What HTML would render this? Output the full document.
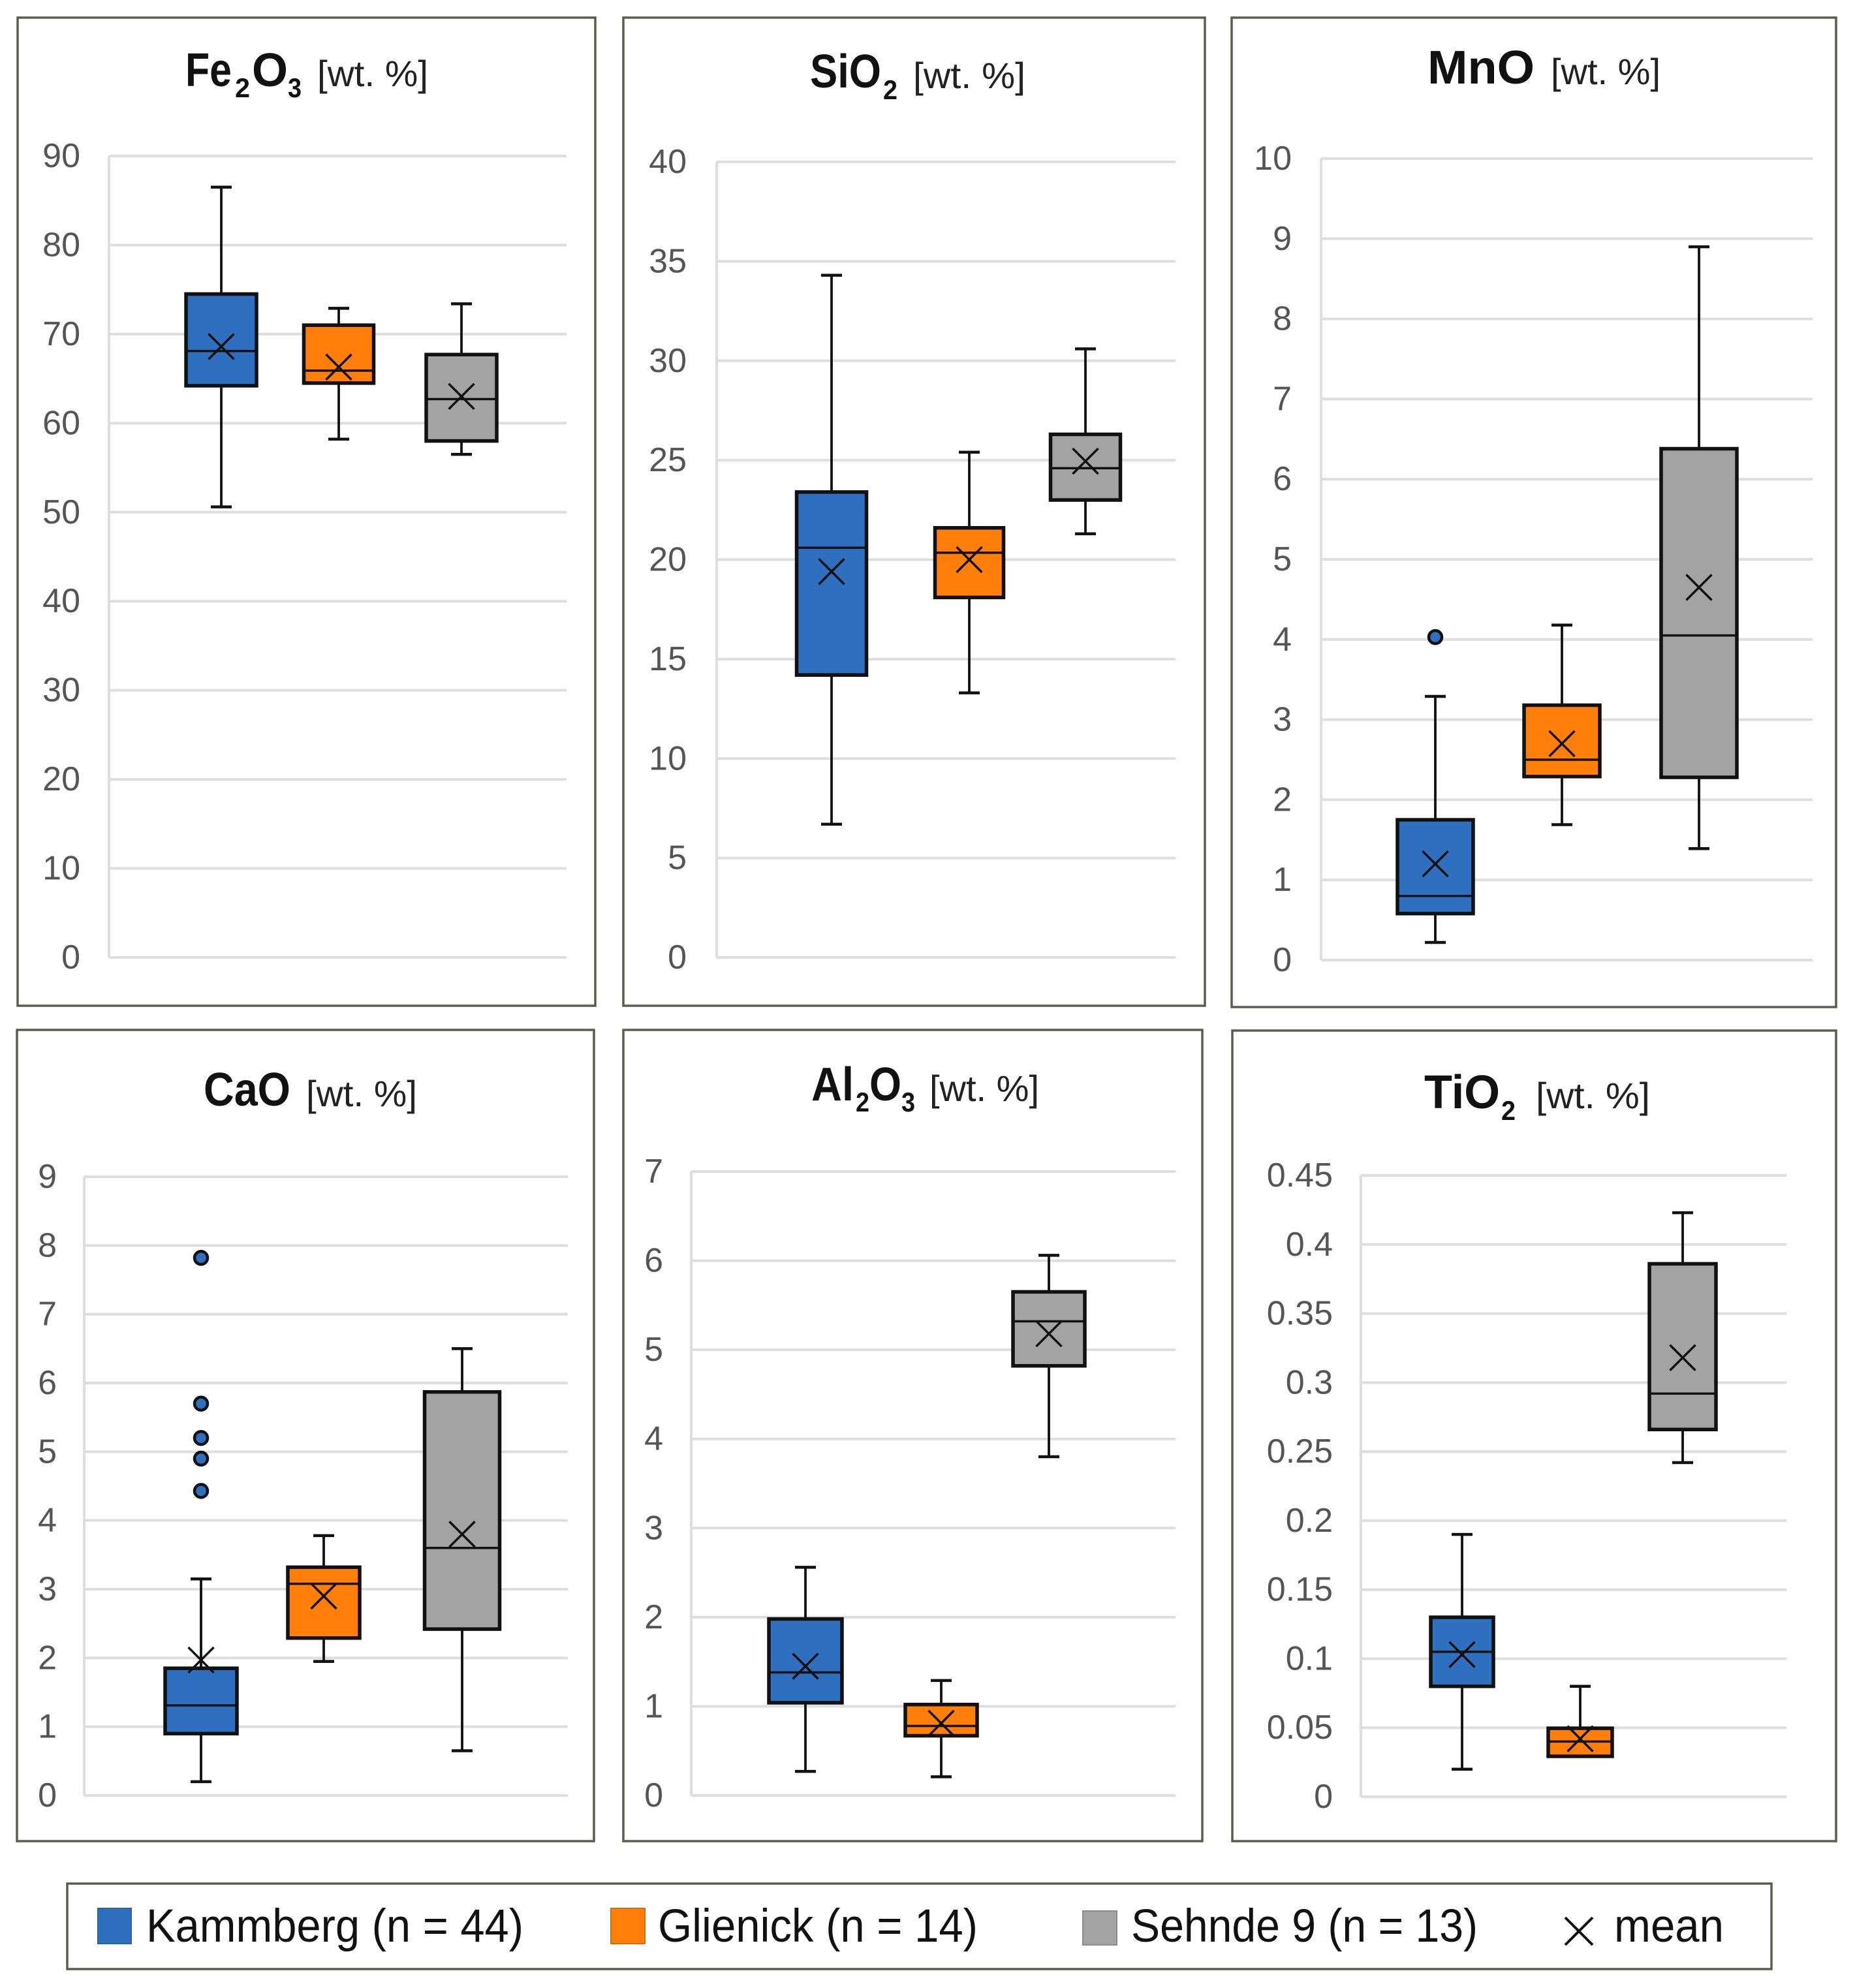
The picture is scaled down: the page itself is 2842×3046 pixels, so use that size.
<!DOCTYPE html>
<html lang="en">
<head>
<meta charset="utf-8">
<title>Oxide composition box plots</title>
<style>
html,body{margin:0;padding:0;background:#fff;}
svg{display:block;}
text{font-family:"Liberation Sans",sans-serif;}
.frame{fill:#fff;stroke:#5c5c4e;stroke-width:3.5;}
.main{font-weight:700;font-size:72px;fill:#111;}
.sub{font-weight:700;font-size:42px;fill:#111;}
.unit{font-size:56px;fill:#222;}
.leg{font-size:71px;fill:#111;}
</style>
</head>
<body>
<svg id="figure" xmlns="http://www.w3.org/2000/svg" width="2842" height="3046" viewBox="0 0 2842 3046">
  <rect width="2842" height="3046" fill="#fff"/>

  <g>
    <rect class="frame" x="27" y="27" width="885" height="1514"/>
    <g>
      <text class="main" x="284" y="132" textLength="71" lengthAdjust="spacingAndGlyphs">Fe</text>
      <text class="sub" x="360" y="149" textLength="23" lengthAdjust="spacingAndGlyphs">2</text>
      <text class="main" x="386" y="132" textLength="55" lengthAdjust="spacingAndGlyphs">O</text>
      <text class="sub" x="441" y="149" textLength="21" lengthAdjust="spacingAndGlyphs">3</text>
      <text class="unit" x="486" y="132" textLength="170" lengthAdjust="spacingAndGlyphs">[wt. %]</text>
    </g>
    <g id="plot-fe2o3"></g>
  </g>

  <g>
    <rect class="frame" x="955" y="27" width="891" height="1514"/>
    <g>
      <text class="main" x="1241" y="134" textLength="109" lengthAdjust="spacingAndGlyphs">SiO</text>
      <text class="sub" x="1353" y="152" textLength="22" lengthAdjust="spacingAndGlyphs">2</text>
      <text class="unit" x="1399" y="135" textLength="172" lengthAdjust="spacingAndGlyphs">[wt. %]</text>
    </g>
    <g id="plot-sio2"></g>
  </g>

  <g>
    <rect class="frame" x="1887" y="27" width="926" height="1516"/>
    <g>
      <text class="main" x="2187" y="128" textLength="164" lengthAdjust="spacingAndGlyphs">MnO</text>
      <text class="unit" x="2376" y="129" textLength="168" lengthAdjust="spacingAndGlyphs">[wt. %]</text>
    </g>
    <g id="plot-mno"></g>
  </g>

  <g>
    <rect class="frame" x="26" y="1578" width="884" height="1243"/>
    <g>
      <text class="main" x="312" y="1694" textLength="133" lengthAdjust="spacingAndGlyphs">CaO</text>
      <text class="unit" x="469" y="1695" textLength="170" lengthAdjust="spacingAndGlyphs">[wt. %]</text>
    </g>
    <g id="plot-cao"></g>
  </g>

  <g>
    <rect class="frame" x="955" y="1578" width="887" height="1243"/>
    <g>
      <text class="main" x="1243" y="1686" textLength="65" lengthAdjust="spacingAndGlyphs">Al</text>
      <text class="sub" x="1311" y="1703" textLength="21" lengthAdjust="spacingAndGlyphs">2</text>
      <text class="main" x="1332" y="1686" textLength="49" lengthAdjust="spacingAndGlyphs">O</text>
      <text class="sub" x="1381" y="1703" textLength="21" lengthAdjust="spacingAndGlyphs">3</text>
      <text class="unit" x="1424" y="1687" textLength="168" lengthAdjust="spacingAndGlyphs">[wt. %]</text>
    </g>
    <g id="plot-al2o3"></g>
  </g>

  <g>
    <rect class="frame" x="1888" y="1579" width="925" height="1242"/>
    <g>
      <text class="main" x="2182" y="1698" textLength="116" lengthAdjust="spacingAndGlyphs">TiO</text>
      <text class="sub" x="2300" y="1716" textLength="22" lengthAdjust="spacingAndGlyphs">2</text>
      <text class="unit" x="2353" y="1698" textLength="175" lengthAdjust="spacingAndGlyphs">[wt. %]</text>
    </g>
    <g id="plot-tio2"></g>
  </g>

  <g>
    <rect class="frame" x="103" y="2886" width="2611" height="131"/>
    <g>
      <rect x="150" y="2924" width="51" height="54" fill="#2f6fbf" stroke="#2a62a8" stroke-width="2"/>
      <text class="leg" x="224" y="2975" textLength="578" lengthAdjust="spacingAndGlyphs">Kammberg (n = 44)</text>
    </g>
    <g>
      <rect x="936" y="2924" width="52" height="54" fill="#ff7f0a" stroke="#d96c08" stroke-width="2"/>
      <text class="leg" x="1008" y="2975" textLength="490" lengthAdjust="spacingAndGlyphs">Glienick (n = 14)</text>
    </g>
    <g>
      <rect x="1659" y="2928" width="52" height="52" fill="#a3a3a3" stroke="#8c8c8c" stroke-width="2"/>
      <text class="leg" x="1733" y="2975" textLength="531" lengthAdjust="spacingAndGlyphs">Sehnde 9 (n = 13)</text>
    </g>
    <g>
      <path d="M2398 2938 L2440 2980 M2440 2938 L2398 2980" stroke="#111" stroke-width="4" fill="none"/>
      <text class="leg" x="2473" y="2975" textLength="168" lengthAdjust="spacingAndGlyphs">mean</text>
    </g>
  </g>
</svg>

<script>
// ---- data (wt. %) ; order: Kammberg, Glienick, Sehnde 9 ----
const categories = ['kammberg', 'glienick', 'sehnde'];

const fe2o3Ticks = ['0','10','20','30','40','50','60','70','80','90'];
const fe2o3High = [86.5, 72.9, 73.4];
const fe2o3Q3 = [74.5, 71.0, 67.7];
const fe2o3Median = [68.1, 65.9, 62.7];
const fe2o3Mean = [68.6, 66.3, 63.0];
const fe2o3Q1 = [64.2, 64.5, 58.0];
const fe2o3Low = [50.6, 58.2, 56.5];
const fe2o3Outliers = [[], [], []];

const sio2Ticks = ['0','5','10','15','20','25','30','35','40'];
const sio2High = [34.3, 25.4, 30.6];
const sio2Q3 = [23.4, 21.6, 26.3];
const sio2Median = [20.6, 20.35, 24.6];
const sio2Mean = [19.4, 20.0, 24.95];
const sio2Q1 = [14.2, 18.1, 23.0];
const sio2Low = [6.7, 13.3, 21.3];
const sio2Outliers = [[], [], []];

const mnoTicks = ['0','1','2','3','4','5','6','7','8','9','10'];
const mnoHigh = [3.29, 4.18, 8.9];
const mnoQ3 = [1.75, 3.18, 6.38];
const mnoMedian = [0.8, 2.5, 4.05];
const mnoMean = [1.2, 2.7, 4.65];
const mnoQ1 = [0.58, 2.29, 2.28];
const mnoLow = [0.22, 1.69, 1.39];
const mnoOutliers = [[4.03], [], []];

const caoTicks = ['0','1','2','3','4','5','6','7','8','9'];
const caoHigh = [3.15, 3.78, 6.5];
const caoQ3 = [1.85, 3.32, 5.87];
const caoMedian = [1.31, 3.08, 3.6];
const caoMean = [1.97, 2.9, 3.8];
const caoQ1 = [0.9, 2.29, 2.42];
const caoLow = [0.2, 1.95, 0.65];
const caoOutliers = [[7.82, 5.7, 5.2, 4.9, 4.43], [], []];

const al2o3Ticks = ['0','1','2','3','4','5','6','7'];
const al2o3High = [2.56, 1.29, 6.06];
const al2o3Q3 = [1.98, 1.02, 5.65];
const al2o3Median = [1.38, 0.78, 5.32];
const al2o3Mean = [1.45, 0.81, 5.18];
const al2o3Q1 = [1.04, 0.67, 4.82];
const al2o3Low = [0.27, 0.21, 3.8];
const al2o3Outliers = [[], [], []];

const tio2Ticks = ['0','0.05','0.1','0.15','0.2','0.25','0.3','0.35','0.4','0.45'];
const tio2High = [0.19, 0.08, 0.423];
const tio2Q3 = [0.13, 0.0496, 0.386];
const tio2Median = [0.105, 0.04, 0.292];
const tio2Mean = [0.103, 0.042, 0.318];
const tio2Q1 = [0.08, 0.0293, 0.266];
const tio2Low = [0.02, 0.0293, 0.242];
const tio2Outliers = [[], [], []];

// ---- layout and styling ----
const fills = {kammberg:'#2f6fbf', glienick:'#ff7f0a', sehnde:'#a3a3a3'};
const SVGNS = 'http://www.w3.org/2000/svg';

function make(parent, tag, attrs) {
  const el = document.createElementNS(SVGNS, tag);
  for (const k in attrs) el.setAttribute(k, attrs[k]);
  parent.appendChild(el);
  return el;
}

function drawPanel(cfg) {
  const root = document.getElementById(cfg.id);
  const ticks = cfg.ticks.map(Number);
  const vMax = ticks[ticks.length - 1];
  const y = v => cfg.y0 - (v / vMax) * (cfg.y0 - cfg.yTop);
  const x = i => cfg.slots[i];

  const axis = make(root, 'line', {x1:cfg.left, x2:cfg.left, y1:cfg.yTop, y2:cfg.y0, stroke:'#dedede', 'stroke-width':4});
  
  

  cfg.ticks.forEach((label, i) => {
    const yy = y(ticks[i]);
    const grid = make(root, 'line', {x1:cfg.left, x2:cfg.right, y1:yy, y2:yy, stroke:'#dedede', 'stroke-width':4});
    
    
    const t = make(root, 'text', {x:cfg.labelRight, y:yy + 17, 'text-anchor':'end', 'font-size':52, fill:'#555'});
    t.textContent = label;
    
    
  });

  categories.forEach((cat, i) => {
    const g = make(root, 'g', {});
    
    
    const cx = x(i), half = (cfg.widths[i] - 3) / 2, capHalf = 16;

    const whisker = make(g, 'line', {x1:cx, x2:cx, y1:y(cfg.high[i]), y2:y(cfg.low[i]), stroke:'#111', 'stroke-width':3.8});
    
    

    [cfg.high[i], cfg.low[i]].forEach(v => {
      const cap = make(g, 'line', {x1:cx - capHalf, x2:cx + capHalf, y1:y(v), y2:y(v), stroke:'#111', 'stroke-width':4.5});
      
      
    });

    const box = make(g, 'rect', {x:cx - half, y:y(cfg.q3[i]), width:half * 2, height:y(cfg.q1[i]) - y(cfg.q3[i]), fill:fills[cat], stroke:'#111', 'stroke-width':5.5});
    
    

    const med = make(g, 'line', {x1:cx - half, x2:cx + half, y1:y(cfg.median[i]), y2:y(cfg.median[i]), stroke:'#111', 'stroke-width':3.5});
    
    

    const my = y(cfg.mean[i]), m = 19.5;
    const mean = make(g, 'path', {d:`M${cx - m} ${my - m} L${cx + m} ${my + m} M${cx + m} ${my - m} L${cx - m} ${my + m}`, stroke:'#111', 'stroke-width':3.5, fill:'none'});
    
    

    cfg.outliers[i].forEach(v => {
      const dot = make(g, 'circle', {cx:cx, cy:y(v), r:10, fill:fills[cat], stroke:'#111', 'stroke-width':4.5});
      
      
    });
  });
}

drawPanel({id:'plot-fe2o3', ticks:fe2o3Ticks, high:fe2o3High, q3:fe2o3Q3, median:fe2o3Median, mean:fe2o3Mean, q1:fe2o3Q1, low:fe2o3Low, outliers:fe2o3Outliers,
  left:167, right:868, yTop:239, y0:1467, labelRight:123, slots:[339,519,707], widths:[111,110,111]});
drawPanel({id:'plot-sio2', ticks:sio2Ticks, high:sio2High, q3:sio2Q3, median:sio2Median, mean:sio2Mean, q1:sio2Q1, low:sio2Low, outliers:sio2Outliers,
  left:1098, right:1801, yTop:248, y0:1467, labelRight:1052, slots:[1274,1485,1663], widths:[110,108,110]});
drawPanel({id:'plot-mno', ticks:mnoTicks, high:mnoHigh, q3:mnoQ3, median:mnoMedian, mean:mnoMean, q1:mnoQ1, low:mnoLow, outliers:mnoOutliers,
  left:2024, right:2777, yTop:243, y0:1471, labelRight:1979, slots:[2199,2393,2603], widths:[119,119,119]});
drawPanel({id:'plot-cao', ticks:caoTicks, high:caoHigh, q3:caoQ3, median:caoMedian, mean:caoMean, q1:caoQ1, low:caoLow, outliers:caoOutliers,
  left:129, right:870, yTop:1803, y0:2751, labelRight:87, slots:[308,496,708], widths:[113,113,118]});
drawPanel({id:'plot-al2o3', ticks:al2o3Ticks, high:al2o3High, q3:al2o3Q3, median:al2o3Median, mean:al2o3Mean, q1:al2o3Q1, low:al2o3Low, outliers:al2o3Outliers,
  left:1059, right:1801, yTop:1795, y0:2751, labelRight:1016, slots:[1234,1442,1607], widths:[115,113,113]});
drawPanel({id:'plot-tio2', ticks:tio2Ticks, high:tio2High, q3:tio2Q3, median:tio2Median, mean:tio2Mean, q1:tio2Q1, low:tio2Low, outliers:tio2Outliers,
  left:2085, right:2737, yTop:1801, y0:2753, labelRight:2042, slots:[2240,2421,2578], widths:[99,101,105]});
</script>
</body>
</html>
